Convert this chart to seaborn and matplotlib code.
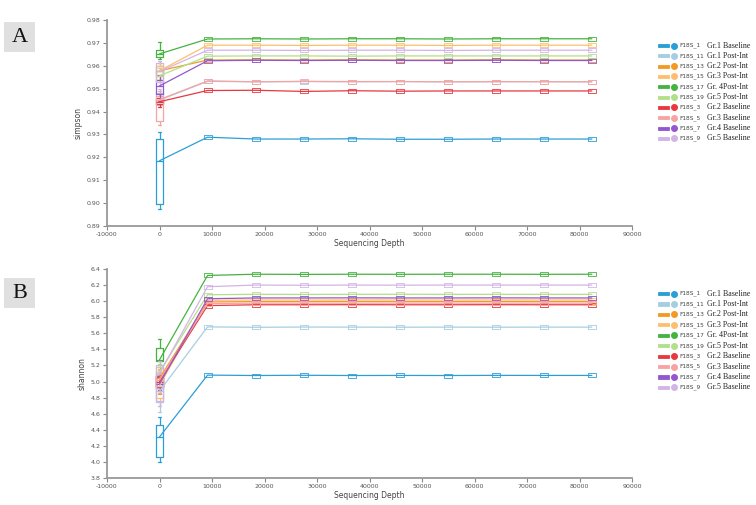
import matplotlib
matplotlib.use("Agg")
import matplotlib.pyplot as plt
import seaborn as sns
import pandas as pd
from matplotlib.patches import Rectangle
from matplotlib.lines import Line2D

# --- data -----------------------------------------------------------------
SAMPLES = ["F18S_1", "F18S_11", "F18S_13", "F18S_15", "F18S_17",
           "F18S_19", "F18S_3", "F18S_5", "F18S_7", "F18S_9"]
GROUPS = ["Gr.1 Baseline", "Gr.1 Post-Int", "Gr.2 Post-Int", "Gr.3 Post-Int",
          "Gr. 4Post-Int", "Gr.5 Post-Int", "Gr.2 Baseline", "Gr.3 Baseline",
          "Gr.4 Baseline", "Gr.5 Baseline"]
COLORS = ["#2a9fd6", "#a6cee3", "#f39a24", "#fdbf6f", "#45b340",
          "#b2df8a", "#e8383d", "#f7a3a3", "#9457cf", "#d2b5e6"]

DEPTHS = [0, 9150, 18300, 27450, 36600, 45750, 54900, 64050, 73200, 82350]

SIMPSON = {
    "F18S_1":  [0.9185, 0.9288, 0.9280, 0.9280, 0.9281, 0.9279, 0.9279, 0.9280, 0.9280, 0.9280],
    "F18S_11": [0.9450, 0.9532, 0.9530, 0.9531, 0.9530, 0.9531, 0.9530, 0.9530, 0.9531, 0.9530],
    "F18S_13": [0.9578, 0.9625, 0.9626, 0.9625, 0.9626, 0.9625, 0.9625, 0.9626, 0.9625, 0.9625],
    "F18S_15": [0.9578, 0.9690, 0.9690, 0.9689, 0.9690, 0.9690, 0.9689, 0.9690, 0.9690, 0.9690],
    "F18S_17": [0.9652, 0.9717, 0.9718, 0.9717, 0.9718, 0.9718, 0.9717, 0.9718, 0.9718, 0.9718],
    "F18S_19": [0.9556, 0.9642, 0.9643, 0.9643, 0.9642, 0.9643, 0.9643, 0.9643, 0.9643, 0.9643],
    "F18S_3":  [0.9443, 0.9492, 0.9493, 0.9488, 0.9491, 0.9489, 0.9490, 0.9490, 0.9490, 0.9490],
    "F18S_5":  [0.9452, 0.9534, 0.9530, 0.9532, 0.9531, 0.9531, 0.9530, 0.9531, 0.9530, 0.9530],
    "F18S_7":  [0.9512, 0.9622, 0.9624, 0.9623, 0.9624, 0.9623, 0.9623, 0.9624, 0.9623, 0.9623],
    "F18S_9":  [0.9575, 0.9668, 0.9668, 0.9667, 0.9668, 0.9668, 0.9667, 0.9668, 0.9668, 0.9668],
}
# box at depth 0: whislo, q1, med, q3, whishi
SIMPSON_BOX = {
    "F18S_1":  [0.8975, 0.8998, 0.9185, 0.9282, 0.9310],
    "F18S_11": [0.9420, 0.9430, 0.9450, 0.9480, 0.9500],
    "F18S_13": [0.9540, 0.9555, 0.9578, 0.9598, 0.9610],
    "F18S_15": [0.9540, 0.9560, 0.9578, 0.9600, 0.9612],
    "F18S_17": [0.9630, 0.9638, 0.9652, 0.9670, 0.9705],
    "F18S_19": [0.9530, 0.9540, 0.9556, 0.9575, 0.9590],
    "F18S_3":  [0.9420, 0.9432, 0.9443, 0.9460, 0.9475],
    "F18S_5":  [0.9340, 0.9357, 0.9452, 0.9470, 0.9490],
    "F18S_7":  [0.9445, 0.9476, 0.9512, 0.9540, 0.9560],
    "F18S_9":  [0.9510, 0.9530, 0.9575, 0.9612, 0.9620],
}

SHANNON = {
    "F18S_1":  [4.31, 5.080, 5.075, 5.078, 5.075, 5.076, 5.075, 5.077, 5.076, 5.076],
    "F18S_11": [4.88, 5.680, 5.675, 5.678, 5.677, 5.676, 5.677, 5.676, 5.677, 5.677],
    "F18S_13": [5.04, 5.990, 5.995, 5.995, 5.996, 5.995, 5.995, 5.996, 5.995, 5.995],
    "F18S_15": [4.95, 6.010, 6.015, 6.014, 6.015, 6.015, 6.014, 6.015, 6.015, 6.015],
    "F18S_17": [5.27, 6.320, 6.335, 6.333, 6.335, 6.334, 6.335, 6.335, 6.334, 6.335],
    "F18S_19": [5.12, 6.080, 6.085, 6.084, 6.085, 6.086, 6.085, 6.085, 6.085, 6.085],
    "F18S_3":  [5.00, 5.945, 5.955, 5.955, 5.956, 5.955, 5.955, 5.956, 5.955, 5.955],
    "F18S_5":  [5.02, 5.970, 5.975, 5.975, 5.974, 5.975, 5.975, 5.975, 5.975, 5.975],
    "F18S_7":  [4.97, 6.030, 6.040, 6.040, 6.041, 6.040, 6.040, 6.041, 6.040, 6.040],
    "F18S_9":  [5.10, 6.180, 6.200, 6.198, 6.200, 6.199, 6.200, 6.200, 6.200, 6.200],
}
SHANNON_BOX = {
    "F18S_1":  [4.00, 4.06, 4.31, 4.46, 4.56],
    "F18S_11": [4.62, 4.75, 4.88, 5.00, 5.10],
    "F18S_13": [4.85, 4.92, 5.04, 5.12, 5.18],
    "F18S_15": [4.70, 4.80, 4.95, 5.08, 5.15],
    "F18S_17": [5.20, 5.25, 5.27, 5.42, 5.53],
    "F18S_19": [5.00, 5.05, 5.12, 5.18, 5.22],
    "F18S_3":  [4.88, 4.94, 5.00, 5.06, 5.10],
    "F18S_5":  [4.86, 4.92, 5.02, 5.10, 5.14],
    "F18S_7":  [4.90, 4.93, 4.97, 5.07, 5.10],
    "F18S_9":  [4.70, 4.76, 5.10, 5.21, 5.25],
}

X_TICKS = [-10000, 0, 10000, 20000, 30000, 40000, 50000, 60000, 70000, 80000, 90000]

# --- style ----------------------------------------------------------------
sns.set_theme(style="white")
plt.rcParams["font.family"] = ["DejaVu Sans"]
palette = dict(zip(SAMPLES, COLORS))

# small flat box used as marker at every rarefied depth
FLAT_BOX = [(-1.6, -0.7), (1.6, -0.7), (1.6, 0.7), (-1.6, 0.7), (-1.6, -0.7)]

fig = plt.figure(figsize=(7.56, 5.05), dpi=100)
W, H = 756, 505


def px_axes(left, top, right, bottom):
    return fig.add_axes([left / W, 1 - bottom / H, (right - left) / W, (bottom - top) / H])


def draw_panel(ax, curves, boxes, ylabel, ylim, yticks, fmt):
    long = pd.DataFrame([
        {"sample": s, "depth": d, "value": v}
        for s in SAMPLES for d, v in zip(DEPTHS, curves[s])
    ])
    sns.lineplot(data=long, x="depth", y="value", hue="sample", hue_order=SAMPLES,
                 palette=palette, marker=FLAT_BOX, markersize=6,
                 markerfacecolor="none", markeredgewidth=0.6,
                 markevery=slice(1, None), linewidth=0.9,
                 legend=False, ax=ax, zorder=3)
    # seaborn paints marker edges white; give them the line colour
    for ln in ax.lines:
        ln.set_markeredgecolor(ln.get_color())
    for s in SAMPLES:
        lo, q1, med, q3, hi = boxes[s]
        c = palette[s]
        ax.bxp([{"whislo": lo, "q1": q1, "med": med, "q3": q3, "whishi": hi, "fliers": []}],
               positions=[0], widths=1250, showcaps=True, patch_artist=False,
               boxprops=dict(color=c, linewidth=0.9),
               whiskerprops=dict(color=c, linewidth=0.9),
               capprops=dict(color=c, linewidth=0.9),
               medianprops=dict(color=c, linewidth=0.9), manage_ticks=False)
    ax.set_xlim(-10000, 90000)
    ax.set_ylim(*ylim)
    ax.set_xticks(X_TICKS)
    ax.set_xticklabels([str(t) for t in X_TICKS])
    ax.set_yticks(yticks)
    ax.set_yticklabels([fmt.format(t) for t in yticks])
    ax.tick_params(axis="both", labelsize=4.5, labelcolor="#555555", length=3,
                   width=0.8, color="#888888", direction="out", pad=1.5,
                   bottom=True, left=True)
    for side in ["top", "right"]:
        ax.spines[side].set_visible(False)
    for side in ["left", "bottom"]:
        ax.spines[side].set_color("#999999")
        ax.spines[side].set_linewidth(1.3)
    ax.set_xlabel("Sequencing Depth", fontsize=5.5, color="#444444", labelpad=1)
    ax.set_ylabel(ylabel, fontsize=5.5, color="#444444", labelpad=3)
    ax.set_facecolor("white")


axA = px_axes(107, 20, 632, 226)
draw_panel(axA, SIMPSON, SIMPSON_BOX, "simpson", (0.89, 0.98),
           [0.89, 0.90, 0.91, 0.92, 0.93, 0.94, 0.95, 0.96, 0.97, 0.98], "{:.2f}")

axB = px_axes(107, 269, 632, 478)
draw_panel(axB, SHANNON, SHANNON_BOX, "shannon", (3.8, 6.4),
           [3.8, 4.0, 4.2, 4.4, 4.6, 4.8, 5.0, 5.2, 5.4, 5.6, 5.8, 6.0, 6.2, 6.4], "{:.1f}")


# --- panel tags -----------------------------------------------------------
def panel_tag(letter, top):
    fig.add_artist(Rectangle((4 / W, 1 - (top + 30) / H), 31 / W, 30 / H,
                             transform=fig.transFigure, facecolor="#e0e0e0",
                             edgecolor="none"))
    fig.text(19.5 / W, 1 - (top + 15) / H, letter, ha="center", va="center",
             fontsize=16, family="Liberation Serif", color="#111111")


panel_tag("A", 22)
panel_tag("B", 278)


# --- legends --------------------------------------------------------------
def legend_block(first_y, step):
    for i, (s, g, c) in enumerate(zip(SAMPLES, GROUPS, COLORS)):
        y = 1 - (first_y + i * step) / H
        fig.add_artist(Rectangle((658 / W, y - 1.6 / H), 11 / W, 3.2 / H,
                                 transform=fig.transFigure, facecolor=c,
                                 edgecolor=c, linewidth=0.6))
        fig.add_artist(Line2D([673.5 / W], [y], transform=fig.transFigure,
                              marker="o", markersize=4.0, color=c,
                              markeredgecolor=c, linestyle="none"))
        fig.text(679 / W, y, s, ha="left", va="center", fontsize=4.2,
                 color="#444444")
        fig.text(707 / W, y, g, ha="left", va="center", fontsize=5.7,
                 family="Liberation Serif", color="#222222")


legend_block(45.5, 10.33)
legend_block(293.5, 10.44)

fig.savefig("out.png", dpi=100, facecolor="white")
